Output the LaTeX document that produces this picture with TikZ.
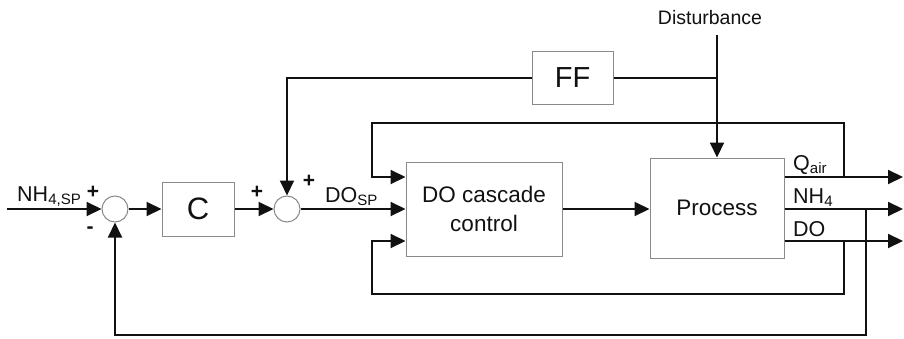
\documentclass[tikz,border=0pt]{standalone}
\usepackage{fontspec}
\setmainfont{Liberation Sans}
\usetikzlibrary{arrows.meta,positioning,calc}
\definecolor{ink}{HTML}{111111}
\definecolor{edge}{HTML}{8A8A8A}
\tikzset{
  box/.style={draw=edge,line width=1pt,fill=white,inner sep=0pt,align=center,text=ink},
  sumc/.style={circle,draw=edge,line width=1pt,fill=white,minimum size=26pt,inner sep=0pt},
  plain/.style={inner sep=0pt,text=ink,font=\fontsize{21.5}{23}\selectfont},
  sgn/.style={inner sep=0pt,text=ink,font=\bfseries\fontsize{21}{22}\selectfont},
  ln/.style={draw=ink,line width=2pt},
  ar/.style={-{Triangle[length=15pt,width=14pt]},draw=ink,line width=2pt},
}
\begin{document}
\begin{tikzpicture}[x=1pt,y=1pt]
\useasboundingbox (0,0) rectangle (904,338);
\node[sumc] (sum1) at (115,129) {};
\node[sumc] (sum2) at (287,129) {};
\node[box,minimum width=72pt,minimum height=54pt,font=\fontsize{31}{33}\selectfont] (ctrl) at (198,129) {C};
\node[box,minimum width=81pt,minimum height=53pt,font=\fontsize{29}{31}\selectfont] (ff) at (572.5,260) {FF};
\node[box,minimum width=156pt,minimum height=94pt,font=\fontsize{22.5}{29}\selectfont] (docc) at (484,129) {DO cascade\\control};
\node[box,minimum width=134pt,minimum height=100pt,font=\fontsize{22.5}{24}\selectfont] (proc) at (717,130) {Process};
\node[plain,font=\fontsize{19.5}{21}\selectfont] (dist) at (710,320) {Disturbance};
\coordinate (nin) at (7,129);
\coordinate (dtop) at (717,303);
\coordinate (oq) at (903,161);
\coordinate (on) at (903,129);
\coordinate (od) at (903,97);
\coordinate (tapq) at (844,161);
\coordinate (upr) at (844,215);
\coordinate (upl) at (372,215);
\coordinate (tapd) at (844,97);
\coordinate (lowr) at (844,44);
\coordinate (lowl) at (372,44);
\coordinate (tapn) at (866,129);
\coordinate (fbn) at (866,3);
\draw[ar] (nin) -- (sum1.west);
\draw[ar] (sum1.east) -- (ctrl.west);
\draw[ar] (ctrl.east) -- (sum2.west);
\draw[ar] (sum2.east) -- (docc.west);
\draw[ar] (docc.east) -- (proc.west |- docc.east);
\draw[ar] (dtop) -- (proc.north);
\draw[ln] (ff.east) -- (ff.east -| dtop);
\draw[ar] (ff.west) -| (sum2.north);
\draw[ar] (proc.east |- oq) -- (oq);
\draw[ar] (proc.east |- on) -- (on);
\draw[ar] (proc.east |- od) -- (od);
\draw[ar] (tapq) -- (upr) -- (upl) |- (docc.west |- oq);
\draw[ar] (tapd) -- (lowr) -- (lowl) |- (docc.west |- od);
\draw[ar] (tapn) -- (fbn) -| (sum1.south);
\node[plain,anchor=base west] (nhsp) at (17,137) {NH\textsubscript{4,SP}};
\node[sgn] (p1) at (93,146) {+};
\node[sgn] (m1) at (90,108) {-};
\node[sgn] (p2) at (257,146) {+};
\node[sgn] (p3) at (309,157) {+};
\node[plain,anchor=base west] (dosp) at (325,136) {DO\textsubscript{SP}};
\node[plain,anchor=base west] (lq) at (793,168) {Q\textsubscript{air}};
\node[plain,anchor=base west] (ln4) at (793,135) {NH\textsubscript{4}};
\node[plain,anchor=base west] (ldo) at (793,102) {DO};
\end{tikzpicture}
\end{document}
